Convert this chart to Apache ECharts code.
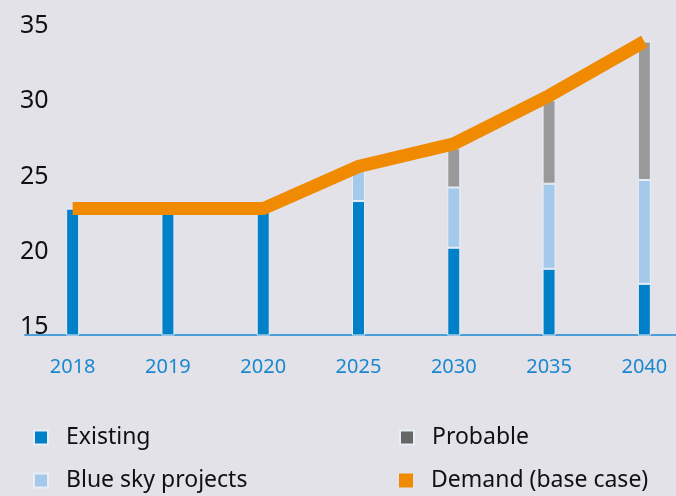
<!DOCTYPE html>
<html>
<head>
<meta charset="utf-8">
<script src="https://cdn.jsdelivr.net/npm/echarts@6/dist/echarts.min.js"></script>
<style>
  html, body { margin: 0; padding: 0; background: #e3e2e8; }
  #main { width: 676px; height: 496px; }
</style>
</head>
<body>
<div id="main"></div>
<script>
  // 类目
  const years = ['2018', '2019', '2020', '2025', '2030', '2035', '2040'];
  // 堆叠柱数据
  const existing = [23.4, 23.3, 23.3, 23.9, 20.8, 19.4, 18.4];
  const blueSky = [0, 0, 0, 2.1, 4.0, 5.65, 6.9];
  const probable = [0, 0, 0, 0, 2.6, 5.55, 9.2];
  // 需求线
  const demand = [23.4, 23.4, 23.4, 26.2, 27.7, 30.9, 34.5];
  // y轴刻度
  const yMin = 15, yMax = 35, yStep = 5;

  const FONT = 'Noto Sans';
  const segBorder = { borderColor: '#e8eef6', borderWidth: 1 };

  // 图例：每项单独一个，排成两列两行
  function legendItem(name, left, top, color) {
    return {
      left: left,
      top: top,
      icon: 'rect',
      itemWidth: 14,
      itemHeight: 14,
      textStyle: { fontFamily: FONT, fontSize: 23, color: '#111', padding: [0, 0, 0, 13] },
      data: [color ? { name: name, itemStyle: { color: color } } : name]
    };
  }

  let myChart = echarts.init(document.getElementById('main'));
  let option = {
    backgroundColor: '#e3e2e8',
    animation: false,
    grid: {
      left: 25,
      top: 34,
      width: 667,
      height: 301,
      outerBoundsMode: 'none'
    },
    legend: [
      legendItem('Existing', 28, 421),
      legendItem('Blue sky projects', 28, 464),
      legendItem('Probable', 394, 421, '#666666'),
      legendItem('Demand (base case)', 394, 464)
    ],
    xAxis: {
      type: 'category',
      data: years,
      boundaryGap: true,
      axisLine: { show: true, lineStyle: { color: '#4d9dd6', width: 2 } },
      axisTick: { show: false },
      axisLabel: { margin: 22, fontFamily: FONT, fontSize: 20, color: '#1a87cf' }
    },
    yAxis: {
      type: 'value',
      min: yMin,
      max: yMax,
      interval: yStep,
      splitLine: { show: false },
      axisLine: { show: false },
      axisTick: { show: false },
      axisLabel: {
        align: 'left',
        verticalAlign: 'bottom',
        lineHeight: 16,
        margin: 5,
        fontFamily: FONT,
        fontSize: 25,
        color: '#111'
      }
    },
    series: [
      {
        name: 'Existing', type: 'bar', stack: 'supply', barWidth: 13,
        itemStyle: Object.assign({ color: '#0080c9' }, segBorder),
        data: existing
      },
      {
        name: 'Blue sky projects', type: 'bar', stack: 'supply', barWidth: 13,
        itemStyle: Object.assign({ color: '#a5c9eb' }, segBorder),
        data: blueSky
      },
      {
        name: 'Probable', type: 'bar', stack: 'supply', barWidth: 13,
        itemStyle: Object.assign({ color: '#999999' }, segBorder),
        data: probable
      },
      {
        name: 'Demand (base case)', type: 'line', z: 5,
        symbol: 'none',
        itemStyle: { color: '#f08a00' },
        lineStyle: { color: '#f08a00', width: 13, cap: 'butt', join: 'miter' },
        data: demand
      }
    ]
  };
  myChart.setOption(option);
</script>
</body>
</html>
